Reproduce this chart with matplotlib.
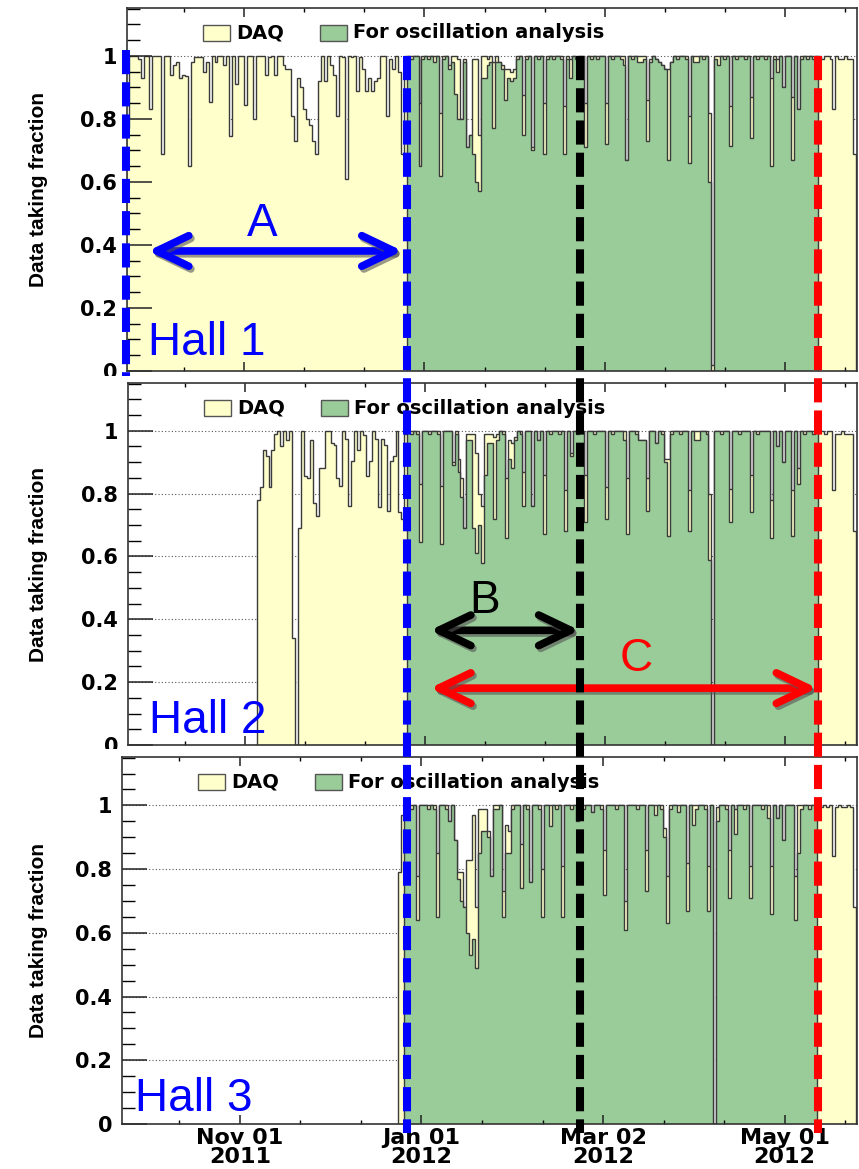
import numpy as np
import matplotlib
matplotlib.use("Agg")
import matplotlib.pyplot as plt
import matplotlib.patheffects as pe
import matplotlib.transforms as mtransforms
from matplotlib.lines import Line2D
from matplotlib.patches import Rectangle

# Daily data-taking fraction, one bin per day. Day 0 = 2012-01-01.

# ---- Hall 1 ----
h1_daq_start = -101
h1_daq_early = [
    0.77, 1.0, 1.0, 1.0, 0.99, 0.93, 1.0, 1.0, 0.83, 1.0,
    1.0, 1.0, 0.69, 1.0, 1.0, 0.94, 0.97, 0.98, 0.93, 0.94,
    0.935, 0.65, 0.98, 0.995, 0.995, 0.995, 0.95, 0.98, 0.855, 1.0,
    0.98, 1.0, 1.0, 0.97, 1.0, 0.745, 1.0, 0.91, 1.0, 1.0,
    0.845, 1.0, 1.0, 0.80, 1.0, 1.0, 1.0, 0.94, 0.995, 1.0,
    0.94, 1.0, 1.0, 0.97, 0.96, 0.96, 0.81, 0.73, 0.93, 0.90,
    0.83, 0.80, 0.78, 0.73, 0.69, 0.92, 1.0, 0.92, 1.0, 0.97,
    0.94, 0.81, 1.0, 0.995, 0.61, 1.0, 0.995, 1.0, 0.89, 0.995,
    0.96, 0.89, 0.93, 0.89, 0.92, 0.93, 1.0, 1.0, 0.81, 0.99,
    0.96, 1.0, 0.95, 0.69, 1.0,
]
h1_daq_run = [
    1.0, 1.0, 1.0, 1.0, 0.85, 1.0, 1.0,
    1.0, 1.0, 1.0, 1.0, 0.82, 1.0, 1.0,
    0.97, 1.0, 1.0, 0.99, 0.80, 0.99, 0.71,
    0.75, 0.99, 0.99, 0.75, 1.0, 1.0, 0.99,
    1.0, 0.98, 1.0, 0.98, 0.97, 0.96, 0.96,
    0.95, 0.96, 1.0, 1.0, 0.875, 1.0, 1.0,
    0.71, 1.0, 1.0, 1.0, 0.85, 1.0, 1.0,
    1.0, 1.0, 1.0, 1.0, 0.84, 1.0, 0.99,
    1.0, 1.0, 1.0, 1.0, 0.85, 1.0, 1.0,
    1.0, 1.0, 1.0, 1.0, 0.85, 1.0, 1.0,
    1.0, 1.0, 1.0, 1.0, 0.67, 1.0, 1.0,
    1.0, 1.0, 1.0, 1.0, 0.86, 0.99, 1.0,
    0.99, 0.98, 0.97, 0.96, 0.96, 0.98, 1.0,
    1.0, 1.0, 1.0, 1.0, 0.81, 1.0, 1.0,
    1.0, 1.0, 1.0, 1.0, 0.82, 0.02, 1.0,
    1.0, 1.0, 1.0, 1.0, 0.84, 1.0, 1.0,
    1.0, 1.0, 1.0, 1.0, 0.87, 1.0, 1.0,
    1.0, 1.0, 1.0, 1.0, 0.93, 1.0, 0.99,
    1.0, 0.90, 1.0, 1.0, 0.87, 1.0, 0.83,
    1.0, 1.0, 1.0, 1.0, 1.0, 1.0,
]
h1_daq_tail = [1.0, 0.99, 1.0, 1.0, 0.99, 0.83, 1.0, 0.99, 0.99, 1.0, 0.99, 0.99, 0.69]

osc_start = -6
h1_osc = [
    1.0, 0.99, 1.0, 1.0, 0.65, 0.99, 1.0,
    0.99, 1.0, 0.98, 1.0, 0.62, 0.99, 1.0,
    0.96, 0.98, 0.88, 0.80, 0.80, 0.98, 0.71,
    0.75, 0.69, 0.60, 0.57, 0.93, 0.93, 0.97,
    0.98, 0.77, 0.98, 0.98, 0.96, 0.86, 0.93,
    0.92, 0.93, 0.99, 1.0, 0.75, 0.99, 1.0,
    0.70, 1.0, 0.99, 1.0, 0.69, 0.99, 1.0,
    0.99, 1.0, 1.0, 0.99, 0.69, 0.99, 0.93,
    1.0, 0.99, 1.0, 1.0, 0.71, 1.0, 0.99,
    1.0, 0.99, 1.0, 1.0, 0.72, 1.0, 0.99,
    1.0, 1.0, 0.99, 0.97, 0.67, 1.0, 0.99,
    1.0, 0.98, 0.98, 0.99, 0.73, 0.98, 1.0,
    0.99, 0.98, 0.97, 0.96, 0.67, 0.98, 1.0,
    0.99, 1.0, 1.0, 0.99, 0.66, 1.0, 0.98,
    0.98, 1.0, 0.99, 1.0, 0.60, 0.0, 0.99,
    0.97, 1.0, 0.99, 1.0, 0.715, 1.0, 0.99,
    1.0, 1.0, 0.99, 1.0, 0.74, 1.0, 0.99,
    1.0, 1.0, 0.99, 1.0, 0.65, 0.99, 0.95,
    1.0, 0.90, 1.0, 1.0, 0.67, 1.0, 0.83,
    0.99, 1.0, 0.99, 1.0, 0.99, 1.0,
]

# ---- Hall 2 ----
h2_daq_start = -57
h2_daq_early = [
    0.78, 0.82, 0.94, 0.92, 0.82, 0.94, 0.99,
    1.0, 0.95, 1.0, 0.97, 1.0, 0.34, 0.0,
    0.69, 1.0, 0.857, 0.85, 0.97, 0.77, 0.73,
    0.88, 0.88, 1.0, 1.0, 0.96, 0.955, 0.85,
    0.825, 1.0, 0.975, 0.76, 0.905, 1.0, 0.94,
    1.0, 0.985, 0.857, 0.905, 1.0, 0.975, 0.757,
    0.975, 0.955, 0.746, 0.905, 0.92, 1.0, 0.74,
    0.72, 0.99,
]
h2_daq_run = [
    1.0, 1.0, 1.0, 1.0, 0.83, 1.0, 1.0,
    1.0, 1.0, 1.0, 1.0, 0.825, 1.0, 1.0,
    1.0, 0.90, 1.0, 0.91, 0.85, 0.69, 0.99,
    0.99, 0.99, 0.93, 0.80, 0.76, 0.99, 0.99,
    0.99, 0.98, 0.99, 1.0, 1.0, 0.85, 0.97,
    0.96, 0.98, 1.0, 1.0, 0.87, 1.0, 1.0,
    0.76, 1.0, 0.97, 1.0, 0.86, 1.0, 1.0,
    1.0, 1.0, 1.0, 1.0, 0.81, 1.0, 0.93,
    1.0, 1.0, 1.0, 1.0, 0.86, 1.0, 1.0,
    1.0, 1.0, 1.0, 1.0, 0.82, 1.0, 1.0,
    1.0, 1.0, 1.0, 1.0, 0.85, 1.0, 1.0,
    1.0, 0.97, 0.97, 0.97, 0.85, 1.0, 1.0,
    0.96, 1.0, 1.0, 0.91, 0.91, 1.0, 1.0,
    1.0, 1.0, 1.0, 1.0, 0.81, 1.0, 1.0,
    1.0, 1.0, 1.0, 1.0, 0.80, 0.0, 1.0,
    1.0, 1.0, 1.0, 1.0, 0.815, 1.0, 1.0,
    1.0, 1.0, 1.0, 1.0, 0.86, 1.0, 1.0,
    1.0, 1.0, 1.0, 1.0, 0.78, 1.0, 0.95,
    1.0, 0.90, 1.0, 1.0, 0.81, 1.0, 0.88,
    1.0, 1.0, 1.0, 1.0, 1.0, 1.0,
]
h2_daq_tail = [1.0, 1.0, 0.99, 1.0, 1.0, 0.81, 0.99, 0.99, 1.0, 0.99, 0.99, 0.99, 0.68]
h2_osc = [
    1.0, 0.99, 1.0, 0.99, 0.645, 1.0, 1.0,
    0.99, 1.0, 1.0, 0.99, 0.64, 1.0, 1.0,
    1.0, 0.89, 0.99, 0.87, 0.79, 0.69, 0.97,
    0.97, 0.69, 0.61, 0.70, 0.58, 0.86, 0.96,
    0.96, 0.72, 0.97, 1.0, 0.99, 0.66, 0.91,
    0.88, 0.97, 1.0, 0.99, 0.76, 1.0, 1.0,
    0.76, 1.0, 0.97, 1.0, 0.67, 1.0, 0.99,
    1.0, 1.0, 0.99, 1.0, 0.68, 1.0, 0.92,
    1.0, 0.99, 1.0, 1.0, 0.71, 1.0, 1.0,
    0.99, 1.0, 1.0, 1.0, 0.72, 1.0, 0.99,
    1.0, 1.0, 1.0, 0.97, 0.67, 1.0, 1.0,
    0.99, 0.97, 0.97, 0.97, 0.746, 1.0, 1.0,
    0.96, 1.0, 0.99, 0.90, 0.665, 0.99, 1.0,
    1.0, 0.99, 1.0, 1.0, 0.68, 1.0, 0.97,
    0.97, 1.0, 1.0, 0.99, 0.59, 0.0, 1.0,
    1.0, 0.99, 1.0, 1.0, 0.71, 1.0, 1.0,
    0.99, 1.0, 1.0, 1.0, 0.74, 1.0, 0.99,
    1.0, 1.0, 1.0, 1.0, 0.66, 1.0, 0.95,
    1.0, 0.90, 1.0, 1.0, 0.665, 1.0, 0.83,
    1.0, 0.99, 1.0, 1.0, 0.99, 1.0,
]

# ---- Hall 3 ----
h3_daq_start = -8
h3_daq_early = [0.79, 0.97]
h3_daq_run = [
    1.0, 1.0, 1.0, 1.0, 0.78, 1.0, 1.0,
    1.0, 1.0, 1.0, 1.0, 0.85, 1.0, 1.0,
    1.0, 0.95, 1.0, 0.89, 0.79, 0.79, 0.68,
    0.83, 0.83, 0.97, 0.68, 0.99, 0.99, 0.99,
    0.92, 0.78, 1.0, 1.0, 1.0, 0.73, 0.94,
    0.92, 1.0, 1.0, 1.0, 0.88, 1.0, 1.0,
    0.76, 1.0, 1.0, 1.0, 0.80, 1.0, 1.0,
    1.0, 1.0, 1.0, 1.0, 0.81, 1.0, 1.0,
    1.0, 1.0, 0.95, 1.0, 1.0, 1.0, 1.0,
    0.98, 1.0, 1.0, 1.0, 0.86, 1.0, 1.0,
    1.0, 1.0, 1.0, 1.0, 0.70, 1.0, 1.0,
    1.0, 1.0, 1.0, 1.0, 0.86, 1.0, 1.0,
    1.0, 1.0, 1.0, 0.93, 0.78, 1.0, 1.0,
    1.0, 1.0, 1.0, 1.0, 0.82, 1.0, 1.0,
    1.0, 1.0, 1.0, 1.0, 0.81, 1.0, 0.0,
    0.995, 1.0, 1.0, 1.0, 0.86, 1.0, 0.99,
    1.0, 1.0, 1.0, 1.0, 0.81, 1.0, 1.0,
    1.0, 1.0, 1.0, 1.0, 0.81, 1.0, 0.96,
    1.0, 0.89, 1.0, 1.0, 1.0, 0.78, 1.0,
    1.0, 1.0, 1.0, 1.0, 1.0, 1.0,
]
h3_daq_tail = [0.995, 0.995, 1.0, 0.995, 1.0, 0.84, 0.995, 1.0, 0.995, 0.995, 1.0, 0.995, 0.68]
h3_osc = [
    1.0, 1.0, 0.99, 1.0, 0.64, 1.0, 1.0,
    1.0, 0.99, 1.0, 0.99, 0.65, 1.0, 1.0,
    0.99, 0.95, 1.0, 0.89, 0.77, 0.70, 0.68,
    0.60, 0.53, 0.58, 0.49, 0.85, 0.92, 0.92,
    0.90, 0.78, 0.99, 0.99, 1.0, 0.65, 0.85,
    0.85, 0.99, 1.0, 1.0, 0.74, 1.0, 0.99,
    0.76, 1.0, 1.0, 0.99, 0.65, 1.0, 1.0,
    0.935, 1.0, 0.99, 1.0, 0.65, 1.0, 1.0,
    0.99, 1.0, 0.95, 1.0, 0.99, 1.0, 1.0,
    0.98, 1.0, 1.0, 0.99, 0.72, 1.0, 1.0,
    1.0, 0.99, 1.0, 1.0, 0.61, 1.0, 1.0,
    1.0, 0.99, 1.0, 1.0, 0.73, 1.0, 1.0,
    0.97, 1.0, 0.99, 0.90, 0.63, 0.99, 1.0,
    1.0, 0.98, 1.0, 1.0, 0.67, 1.0, 0.94,
    0.99, 1.0, 1.0, 0.99, 0.67, 1.0, 0.0,
    0.95, 1.0, 1.0, 0.99, 0.71, 1.0, 0.91,
    1.0, 1.0, 0.99, 1.0, 0.71, 1.0, 1.0,
    1.0, 0.99, 1.0, 0.96, 0.66, 1.0, 0.96,
    1.0, 0.89, 1.0, 1.0, 1.0, 0.64, 0.85,
    0.99, 1.0, 1.0, 0.99, 1.0, 1.0,
]

halls = [
    ("Hall 1", h1_daq_start, h1_daq_early + h1_daq_run + h1_daq_tail, h1_osc),
    ("Hall 2", h2_daq_start, h2_daq_early + h2_daq_run + h2_daq_tail, h2_osc),
    ("Hall 3", h3_daq_start, h3_daq_early + h3_daq_run + h3_daq_tail, h3_osc),
]

# time axis: major ticks every 61 days
tick_days = [-61, 0, 61, 122]
tick_labels = ["Nov 01\n2011", "Jan 01\n2012", "Mar 02\n2012", "May 01\n2012"]
x_range = (-100.6, 146.3)

# run periods used for the comparisons
day_hall1_end = -5.9     # end of period A / start of B and C
day_b_end = 52.6
day_c_end = 133.2

DAQ_COLOR = "#ffffcc"
OSC_COLOR = "#99cc99"
EDGE = "#3a3a3a"

W, H = 859, 1169
fig = plt.figure(figsize=(W / 100, H / 100), dpi=100)
fig.patch.set_facecolor("white")

# panel boxes in pixels: left, top, right, bottom
boxes = [(127, 8, 857, 371), (128, 383, 857, 745), (122, 757, 857, 1124)]


def frac_box(b):
    l, t, r, bt = b
    return [l / W, (H - bt) / H, (r - l) / W, (bt - t) / H]


def draw_hist(ax, start, values, face, z):
    edges = np.arange(start, start + len(values) + 1)
    ax.stairs(values, edges, fill=True, facecolor=face, edgecolor="none", zorder=z)
    ax.stairs(values, edges, baseline=0, fill=False, edgecolor=EDGE, lw=1.0, zorder=z + 0.05)


axes = []
for i, (name, dstart, daq, osc) in enumerate(halls):
    box = boxes[i]
    ax = fig.add_axes(frac_box(box))
    axes.append(ax)

    for g in [0.2, 0.4, 0.6, 0.8, 1.0]:
        ax.axhline(g, color="#555555", lw=0.8, ls=(0, (1, 2)), zorder=0.5)

    draw_hist(ax, dstart, daq, DAQ_COLOR, 1.0)
    draw_hist(ax, osc_start, osc, OSC_COLOR, 1.2)

    ax.set_yticks([0, 0.2, 0.4, 0.6, 0.8, 1.0])
    ax.set_yticklabels(["0", "0.2", "0.4", "0.6", "0.8", "1"])
    ax.set_yticks(np.arange(0, 1.151, 0.05), minor=True)
    ax.set_xticks(tick_days)
    ax.set_xticks(np.arange(-122, 147, 61 / 3), minor=True)
    if i == 2:
        ax.set_xticklabels(tick_labels, linespacing=0.92)
    else:
        ax.set_xticklabels([])
    # limits last, so the tick lists do not widen the view
    ax.set_xlim(*x_range)
    ax.set_ylim(0, 1.152)

    ax.tick_params(axis="y", which="major", direction="in", length=18, width=1.1,
                   left=True, right=False, pad=7, labelsize=15, color="#222222")
    ax.tick_params(axis="y", which="minor", direction="in", length=9.4, width=1.0,
                   left=True, right=False)
    ax.tick_params(axis="x", which="major", direction="in", length=6.5, width=1.1,
                   top=True, bottom=True, pad=3, labelsize=16, color="#222222")
    ax.tick_params(axis="x", which="minor", direction="in", length=3.2, width=1.0,
                   top=True, bottom=True)
    for lab in ax.get_yticklabels() + ax.get_xticklabels():
        lab.set_fontweight("bold")
        lab.set_family("DejaVu Sans")
    for sp in ax.spines.values():
        sp.set_linewidth(1.2)
        sp.set_color("#333333")

    # legend drawn inside the headroom above 1.0
    aw = box[2] - box[0]
    ah = box[3] - box[1]
    for off, face, label in [(76, DAQ_COLOR, "DAQ"), (193, OSC_COLOR, "For oscillation analysis")]:
        ax.add_patch(Rectangle((off / aw, 1 - 33 / ah), 27 / aw, 16 / ah, transform=ax.transAxes,
                               facecolor=face, edgecolor="#555555", lw=1.0, zorder=3))
        ax.text((off + 33) / aw, 1 - 25 / ah, label, transform=ax.transAxes, fontsize=14,
                fontweight="bold", family="DejaVu Sans", va="center", ha="left", zorder=3)

    fig.text(39 / W, 1 - ((box[1] + box[3]) / 2) / H, "Data taking fraction", rotation=90,
             ha="center", va="center", fontsize=15, fontweight="bold",
             family=["Liberation Sans", "DejaVu Sans"])

ax1, ax2, ax3 = axes

# hall names
hall_font = dict(fontsize=33, family=["Liberation Sans", "DejaVu Sans"], color="#0000ff",
                 ha="left", va="baseline", zorder=6)
ax1.text(-93.6, 0.05, "Hall 1", **hall_font)
ax2.text(-93.6, 0.038, "Hall 2", **hall_font)
ax3.text(-96.3, 0.04, "Hall 3", **hall_font)

shadow = [pe.SimpleLineShadow(offset=(1.5, -2), shadow_color="#555555", alpha=0.6), pe.Normal()]


def span_arrow(ax, x0, x1, y, color, label, lx, ly):
    ann = ax.annotate("", xy=(x1, y), xytext=(x0, y), annotation_clip=False, zorder=6,
                      arrowprops=dict(arrowstyle="<->,head_length=1.15,head_width=0.55",
                                      lw=5.5, color=color, mutation_scale=20,
                                      shrinkA=0, shrinkB=0, capstyle="round",
                                      joinstyle="round"))
    ann.arrow_patch.set_path_effects(shadow)
    ax.text(lx, ly, label, color=color, fontsize=33, family=["Liberation Sans", "DejaVu Sans"],
            ha="center", va="baseline", zorder=6)


span_arrow(ax1, -93.5, -7.4, 0.381, "#0000ff", "A", -54.7, 0.43)
span_arrow(ax2, 1.7, 52.3, 0.365, "black", "B", 20.3, 0.42)
span_arrow(ax2, 1.7, 132.8, 0.181, "#ff0000", "C", 71.6, 0.235)

# hide the clipped lower halves of the bottom "0" labels of the upper panels
for y0, y1 in [(376, 383), (749, 757)]:
    fig.add_artist(Rectangle((0, 1 - y1 / H), 121 / W, (y1 - y0) / H, transform=fig.transFigure,
                             facecolor="white", edgecolor="none", zorder=3))

# vertical markers of the data periods, spanning all panels
vtrans = mtransforms.blended_transform_factory(ax1.transData, fig.transFigure)
y_top = 1 - 56 / H
y_bot = 1 - 1133 / H
for d, color in [(day_hall1_end, "#0000ff"), (day_b_end, "black"), (day_c_end, "#ff0000")]:
    fig.add_artist(Line2D([d, d], [y_top, y_bot], transform=vtrans, color=color, lw=5.8,
                          dashes=(3.0, 1.0), solid_capstyle="butt", dash_capstyle="butt",
                          zorder=5))
ltrans = mtransforms.blended_transform_factory(ax1.transAxes, fig.transFigure)
fig.add_artist(Line2D([-0.002, -0.002], [1 - 50 / H, 1 - 376 / H], transform=ltrans,
                      color="#0000ff", lw=5.8, dashes=(3.0, 1.0), dash_capstyle="butt", zorder=5))

fig.savefig("out.png", dpi=100)
